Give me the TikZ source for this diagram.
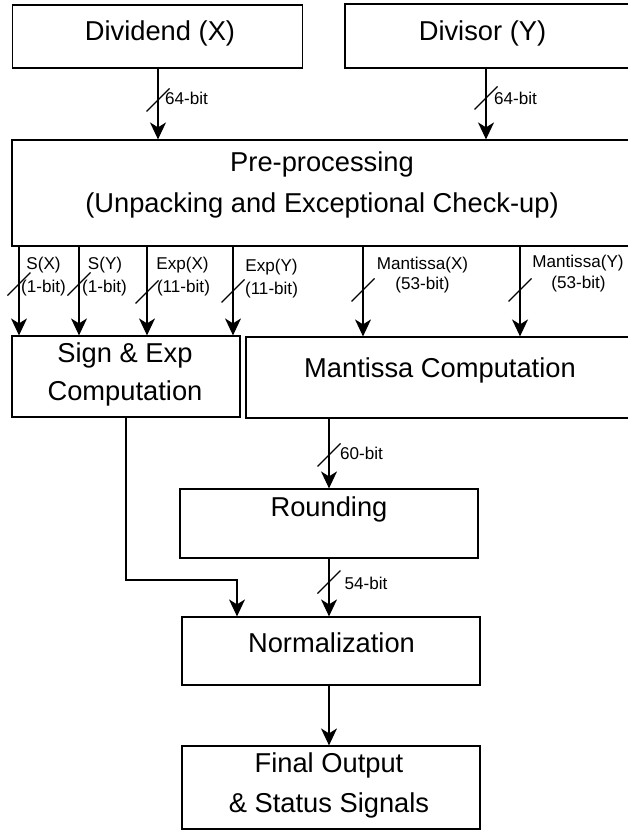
\documentclass[tikz,border=0pt]{standalone}
\usepackage{fontspec}
\setmainfont{Liberation Sans}
\usetikzlibrary{arrows.meta}
\begin{document}
\begin{tikzpicture}[x=1pt,y=-1pt,
  box/.style={draw=black, line width=1.2pt, inner sep=0pt},
  big/.style={font=\fontsize{27.3}{33}\selectfont, inner sep=0pt, anchor=base, align=center},
  small/.style={font=\fontsize{17.1}{20}\selectfont, inner sep=0pt},
  arr/.style={line width=1.2pt, -{Stealth[length=17pt,width=16pt,inset=5pt]}},
  busmark/.style={line width=1.1pt}]
\useasboundingbox (0,0) rectangle (627,834);

% ---- blocks ----
\node[box, minimum width=290pt, minimum height=63pt] (dvd) at (157.5,36.5) {};
\node[box, minimum width=285pt, minimum height=64pt] (dvs) at (487.5,36) {};
\node[box, minimum width=618pt, minimum height=106pt] (pre) at (321,193) {};
\node[box, minimum width=228pt, minimum height=81pt] (sgn) at (126,376.5) {};
\node[box, minimum width=384pt, minimum height=81pt] (man) at (438,377.5) {};
\node[box, minimum width=298pt, minimum height=69pt] (rnd) at (329,523.5) {};
\node[box, minimum width=298pt, minimum height=68pt] (nrm) at (331,651) {};
\node[box, minimum width=298pt, minimum height=83pt] (fin) at (331,787.5) {};

% ---- block texts (base anchor = baseline of the last line) ----
\node[big] (dvd-t) at (160,40.5) {Dividend (X)};
\node[big] (dvs-t) at (482.5,40.5) {Divisor (Y)};
\node[big, font=\fontsize{27.3}{41}\selectfont] (pre-t) at (322,213) {Pre-processing\\(Unpacking and Exceptional Check-up)};
\node[big, font=\fontsize{27.3}{38}\selectfont] (sgn-t) at (125,400) {Sign \& Exp\\Computation};
\node[big] (man-t) at (440,377) {Mantissa Computation};
\node[big] (rnd-t) at (329,516) {Rounding};
\node[big] (nrm-t) at (331.5,652) {Normalization};
\node[big, font=\fontsize{27.3}{40}\selectfont] (fin-t) at (329,812) {Final Output\\\& Status Signals};

% ---- x positions of the buses ----
\coordinate (xa) at (158,0);
\coordinate (xb) at (486,0);
\coordinate (b1) at (19,0);
\coordinate (b2) at (79,0);
\coordinate (b3) at (147,0);
\coordinate (b4) at (233,0);
\coordinate (b5) at (363,0);
\coordinate (b6) at (520,0);
\coordinate (xm) at (329,0);
\coordinate (elb) at (237,580);

% ---- connectors ----
\draw[arr] (dvd.south -| xa) -- (pre.north -| xa);
\draw[arr] (dvs.south -| xb) -- (pre.north -| xb);
\foreach \b in {b1,b2,b3,b4}
  \draw[arr] (pre.south -| \b) -- (sgn.north -| \b);
\foreach \b in {b5,b6}
  \draw[arr] (pre.south -| \b) -- (man.north -| \b);
\draw[arr] (man.south -| xm) -- (rnd.north -| xm);
\draw[arr] (rnd.south -| xm) -- (nrm.north -| xm);
\draw[arr] (sgn.south) |- (elb) -- (elb |- nrm.north);
\draw[arr] (nrm.south -| xm) -- (fin.north -| xm);

% ---- bus width marks ----
\foreach \mx/\my in {158/100,486/98,19/284,79/284,147/292,233/291,363/290,520/290,329/455,329/582}
  \draw[busmark] (\mx-11.5,\my+11.5) -- (\mx+11.5,\my-11.5);

% ---- bus labels ----
\node[small] (l1) at (186.5,98) {64-bit};
\node[small] (l2) at (515.5,98) {64-bit};
\node[small] (l3) at (43.5,265) {S(X)};
\node[small] (l4) at (43.5,288) {(1-bit)};
\node[small] (l5) at (105,265) {S(Y)};
\node[small] (l6) at (104.5,288) {(1-bit)};
\node[small] (l7) at (182.5,265) {Exp(X)};
\node[small] (l8) at (183.5,288) {(11-bit)};
\node[small] (l9) at (271.5,267) {Exp(Y)};
\node[small] (l10) at (271.5,290) {(11-bit)};
\node[small] (l11) at (422.5,265) {Mantissa(X)};
\node[small] (l12) at (422.5,285) {(53-bit)};
\node[small] (l13) at (578,263) {Mantissa(Y)};
\node[small] (l14) at (578.5,284) {(53-bit)};
\node[small] (l15) at (361.5,453) {60-bit};
\node[small] (l16) at (366,583) {54-bit};
\end{tikzpicture}
\end{document}
